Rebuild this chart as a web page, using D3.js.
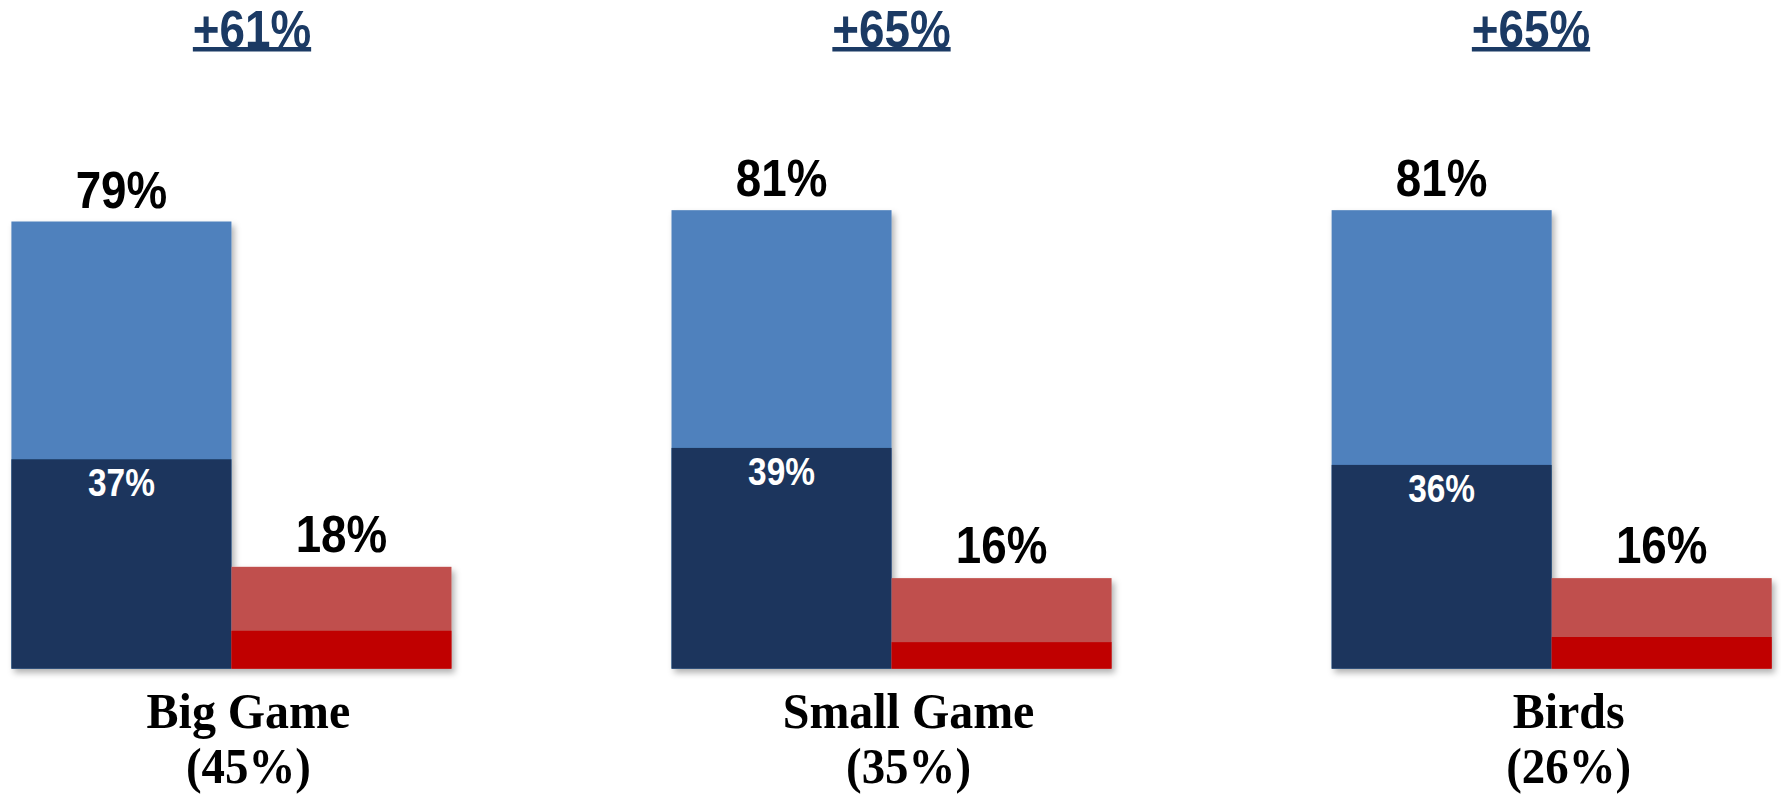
<!DOCTYPE html>
<html>
<head>
<meta charset="utf-8">
<script src="https://cdnjs.cloudflare.com/ajax/libs/d3/7.8.5/d3.min.js"></script>
<style>
  body { margin: 0; background: #fff; }
</style>
</head>
<body>
<svg id="chart" width="1781" height="795"></svg>
<script>
// data
var categories = ["Big Game", "Small Game", "Birds"];
var shares = ["(45%)", "(35%)", "(26%)"];
var blueTotal = [79, 81, 81];
var blueInner = [37, 39, 36];
var redTotal = [18, 16, 16];
var redInner = [6.7, 4.7, 5.6];
var gaps = ["+61%", "+65%", "+65%"];

var svg = d3.select("#chart");
var baseY = 668.7;

var x = d3.scaleBand().domain(categories).range([11.4, 1771.7]).paddingInner(1 / 3).paddingOuter(0);
var sub = d3.scaleBand().domain(["blue", "red"]).range([0, x.bandwidth()]).padding(0);
var y = d3.scaleLinear().domain([0, 79]).range([baseY, 221.5]);
// headline numbers sit on their own, slightly narrower spacing
var gx = d3.scalePoint().domain(categories).range([252, 1531]);

var defs = svg.append("defs");
var f = defs.append("filter").attr("id", "shadow").attr("x", "-10%").attr("y", "-10%").attr("width", "120%").attr("height", "120%");
f.append("feDropShadow").attr("dx", 3).attr("dy", 4).attr("stdDeviation", 3)
  .attr("flood-color", "#000").attr("flood-opacity", 0.3);

var groups = svg.selectAll("g.grp")
  .data(categories)
  .enter().append("g")
  .attr("class", "grp")
  .attr("transform", function(d) { return "translate(" + x(d) + ",0)"; });

var bars = groups.append("g").attr("filter", "url(#shadow)");

function addBar(key, vals, color) {
  bars.append("rect")
    .attr("x", sub(key))
    .attr("width", sub.bandwidth())
    .attr("y", function(d, i) { return y(vals[i]); })
    .attr("height", function(d, i) { return baseY - y(vals[i]); })
    .attr("fill", color);
}
addBar("blue", blueTotal, "#4f81bd");
addBar("blue", blueInner, "#1a365d");
addBar("red", redTotal, "#c0504d");
addBar("red", redInner, "#c00000");

var sans = "'Liberation Sans', Arial, sans-serif";
var serif = "'Liberation Serif', 'Times New Roman', serif";

// text squeezed a bit sideways, like the original
function label(sel, fx, fy, size, fam, color, txt, sx) {
  return sel.append("text")
    .attr("transform", function(d, i) { return "translate(" + fx(d, i) + "," + fy(d, i) + ") scale(" + sx + ",1)"; })
    .attr("text-anchor", "middle")
    .attr("fill", color)
    .style("font", "bold " + size + "px " + fam)
    .text(txt);
}

var blueMid = sub("blue") + sub.bandwidth() / 2;
var redMid = sub("red") + sub.bandwidth() / 2;

label(groups, function() { return blueMid; }, function(d, i) { return y(blueTotal[i]) - 14; },
  52, sans, "#000", function(d, i) { return blueTotal[i] + "%"; }, 0.88);
label(groups, function() { return blueMid; }, function(d, i) { return y(blueInner[i]) + 37; },
  38, sans, "#fff", function(d, i) { return blueInner[i] + "%"; }, 0.88);
label(groups, function() { return redMid; }, function(d, i) { return y(redTotal[i]) - 15; },
  52, sans, "#000", function(d, i) { return redTotal[i] + "%"; }, 0.88);

// category labels
var catX = function() { return x.bandwidth() / 2 + 17; };
label(groups, catX, function() { return baseY + 59; }, 51, serif, "#000", function(d) { return d; }, 0.94);
label(groups, catX, function() { return baseY + 114; }, 51, serif, "#000", function(d, i) { return shares[i]; }, 0.92);

// gap labels, underlined
var gapGroups = svg.selectAll("g.gap")
  .data(categories)
  .enter().append("g")
  .attr("class", "gap");

var gapText = label(gapGroups, function(d) { return gx(d); }, function() { return 46.7; },
  52, sans, "#1b3a64", function(d, i) { return gaps[i]; }, 0.88);

gapText.each(function(d) {
  var w = this.getBBox().width * 0.88;
  d3.select(this.parentNode).append("rect")
    .attr("x", gx(d) - w / 2)
    .attr("y", 47)
    .attr("width", w)
    .attr("height", 4.5)
    .attr("fill", "#1b3a64");
});
</script>
</body>
</html>
